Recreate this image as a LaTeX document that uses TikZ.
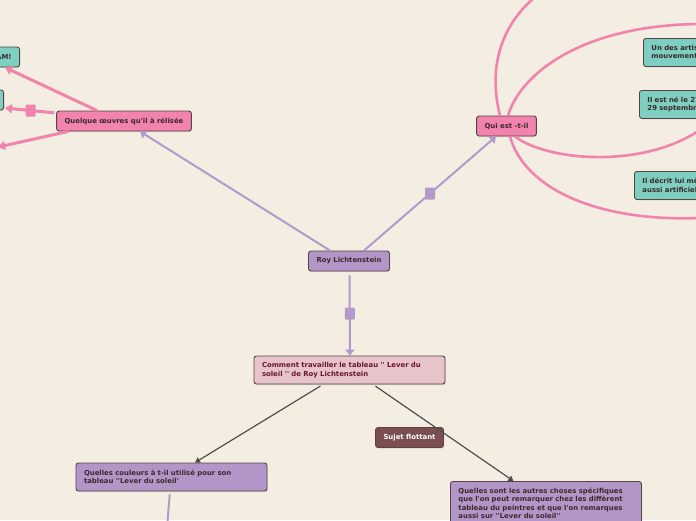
\documentclass[tikz,border=0pt]{standalone}
\usepackage{fontspec}
\setmainfont{DejaVu Sans}[Ligatures=TeXOff]
\usetikzlibrary{arrows.meta,shadows}

\definecolor{fond}{HTML}{F4EDE2}
\definecolor{violet}{HTML}{B396C8}
\definecolor{violetlien}{HTML}{B49ACB}
\definecolor{rose}{HTML}{F283AC}
\definecolor{roseclair}{HTML}{E6C4CA}
\definecolor{turquoise}{HTML}{7ECFC1}
\definecolor{brun}{HTML}{7B4F4F}
\definecolor{bord}{HTML}{564343}
\definecolor{texte}{HTML}{3A2A2A}
\definecolor{bordeaux}{HTML}{6B1530}
\definecolor{gris}{HTML}{4F4F4F}

\tikzset{
  boite/.style={draw=bord, line width=0.9pt, rounded corners=2.5pt, text=texte,
    font=\bfseries\fontsize{6.9}{8.5}\selectfont, inner xsep=8pt, inner ysep=0pt,
    minimum height=20pt,
    drop shadow={shadow xshift=0.6pt, shadow yshift=-1pt, opacity=0.25}},
  deuxlignes/.style={text width=175pt, align=left, minimum height=28pt},
  lienviolet/.style={draw=violetlien, line width=2pt, -{Triangle[length=6pt,width=9pt]}},
  lienrose/.style={draw=rose, line width=3pt, -{Triangle[length=7pt,width=9pt]}},
  liengris/.style={draw=gris, line width=1.2pt, -{Triangle[length=5pt,width=6pt]}},
  courbe/.style={draw=rose, line width=2.6pt},
  carre/.style={rounded corners=1pt, minimum width=10pt, minimum height=12pt, inner sep=0pt}
}

\begin{document}
\begin{tikzpicture}[x=1pt, y=-1pt]

\useasboundingbox (0,0) rectangle (696,520);
\clip (0,0) rectangle (696,520);
\fill[fond] (0,0) rectangle (696,520);

% ---------- centre ----------
\node[boite, fill=violet] (roy) at (349,261) {Roy Lichtenstein};
\node[boite, fill=roseclair, text=bordeaux, deuxlignes] (comment) at (349.5,370)
  {Comment travailler le tableau '' Lever du\\soleil '' de Roy Lichtenstein};

% ---------- branches ----------
\node[boite, fill=rose] (quelque) at (124,121) {Quelque œuvres qu'il à rélisée};
\node[boite, fill=rose] (qui) at (506.5,126) {Qui est -t-il};
\node[boite, fill=brun, text=white, draw=brun!80!black] (sujet) at (409.5,437.5) {Sujet flottant};

% ---------- questions ----------
\node[boite, fill=violet, deuxlignes] (couleurs) at (171.5,477)
  {Quelles couleurs à t-il utilisé pour son\\tableau ''Lever du soleil'};
\node[boite, fill=violet, deuxlignes, minimum height=44pt, anchor=north west] (autres) at (450,481)
  {Quelles sont les autres choses spécifiques\\que l'on peut remarquer chez les diffèrent\\tableau du peintres et que l'on remarques\\aussi sur ''Lever du soleil''};

% ---------- feuilles ----------
\node[boite, fill=turquoise, anchor=north west, text width=120pt, align=left, minimum height=28pt]
  (artiste) at (643,38) {Un des artistes du\\mouvement Pop Art};
\node[boite, fill=turquoise, anchor=north west, text width=150pt, align=left, minimum height=28pt]
  (naissance) at (639,90) {Il est né le 27 octobre 1923\\29 septembre 1997};
\node[boite, fill=turquoise, anchor=north west, text width=150pt, align=left, minimum height=28pt]
  (decrit) at (634,171) {Il décrit lui même son art\\aussi artificiel};
\node[boite, fill=turquoise, anchor=east] (whaam) at (20,57) {WHAAM!};
\node[boite, fill=turquoise, anchor=east, minimum width=60pt] (noyee) at (4,100) {};

\coordinate (horsgauche) at (-2,147);
\coordinate (bas) at (166,540);
\coordinate (hautA) at (560,-20);
\coordinate (hautB) at (700,24);
\coordinate (droiteA) at (700,218);
\coordinate (droiteB) at (700,130);

% ---------- liens ----------
\draw[lienviolet] ([xshift=-19pt]roy.north) -- ([xshift=16pt]quelque.south);
\draw[lienviolet] ([xshift=15pt]roy.north) -- node[carre, fill=violetlien]{} ([xshift=-10.5pt]qui.south);
\draw[lienviolet, shorten <=4pt] ([xshift=0.5pt]roy.south) -- node[carre, fill=violetlien]{} ([xshift=0.5pt]comment.north);

\draw[liengris, shorten <=3pt] ([xshift=-26.5pt]comment.south) -- ([xshift=23.5pt]couleurs.north);
\draw[liengris, shorten <=3pt] ([xshift=23.5pt]comment.south) -- ([xshift=-32.5pt]autres.north);
\draw[violetlien, line width=2pt, shorten <=3pt] ([xshift=-1.5pt]couleurs.south) -- (bas);

\draw[lienrose] ([xshift=-27pt]quelque.north) -- ([xshift=-15pt]whaam.south east);
\draw[lienrose, shorten <=2pt] ([yshift=8pt]quelque.west) -- node[carre, fill=rose]{} ([yshift=-8pt, xshift=1pt]noyee.east);
\draw[lienrose] ([xshift=12pt]quelque.south west) -- (horsgauche);

\draw[courbe] ([xshift=-6.5pt]qui.north) .. controls (486,60) and (505,10) .. (hautA);
\draw[courbe] ([xshift=1.5pt]qui.north) .. controls (520,75) and (580,25) .. (hautB);
\draw[courbe] ([xshift=3.5pt]qui.south) .. controls (525,190) and (600,222) .. (droiteA);
\draw[courbe] ([xshift=8.5pt]qui.south) .. controls (545,160) and (640,170) .. (droiteB);

\end{tikzpicture}
\end{document}
